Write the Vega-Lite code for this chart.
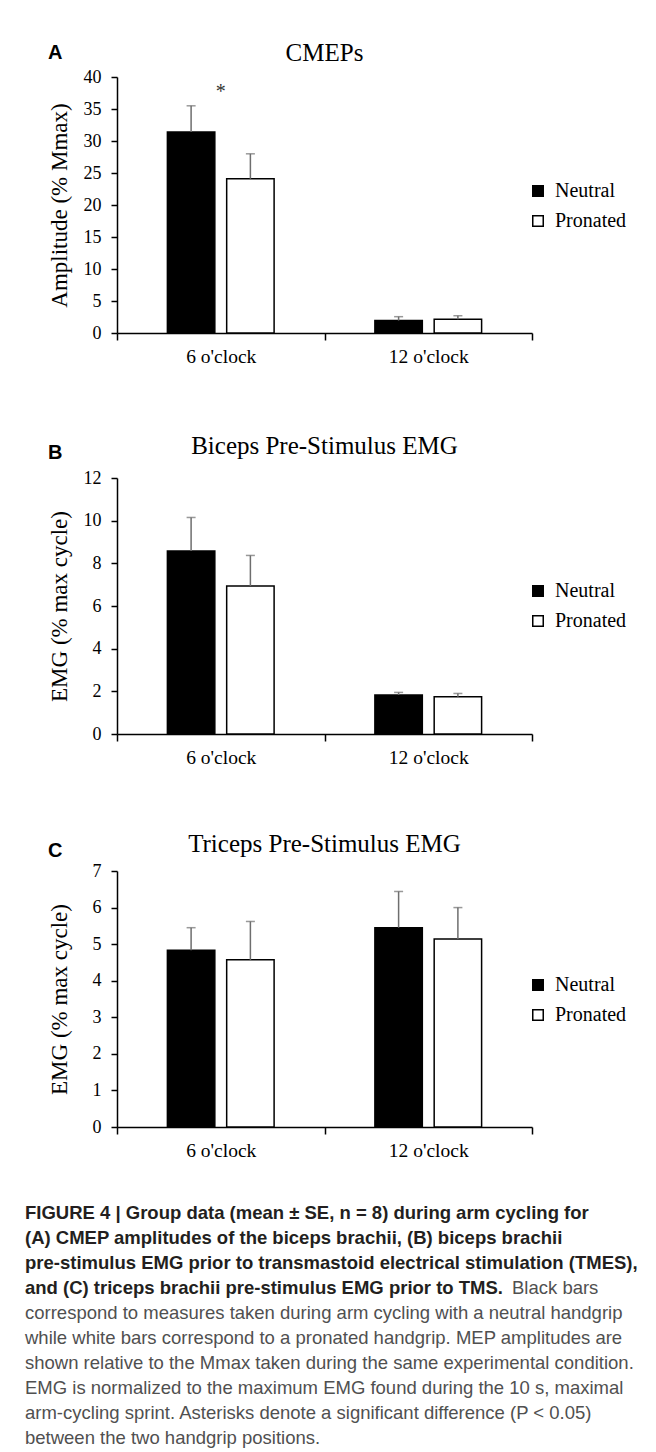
{
  "$schema": "https://vega.github.io/schema/vega-lite/v6.json",
  "padding": {"left": 25, "top": 40, "right": 5, "bottom": 0},
  "background": "white",
  "datasets": {
    "cmep": [
      {"clock": "6 o'clock", "grip": "Neutral", "mean": 31.4, "upper": 35.5},
      {"clock": "6 o'clock", "grip": "Pronated", "mean": 24.1, "upper": 28.0},
      {"clock": "12 o'clock", "grip": "Neutral", "mean": 1.95, "upper": 2.55},
      {"clock": "12 o'clock", "grip": "Pronated", "mean": 2.15, "upper": 2.7}
    ],
    "biceps": [
      {"clock": "6 o'clock", "grip": "Neutral", "mean": 8.58, "upper": 10.15},
      {"clock": "6 o'clock", "grip": "Pronated", "mean": 6.94, "upper": 8.37},
      {"clock": "12 o'clock", "grip": "Neutral", "mean": 1.83, "upper": 1.95},
      {"clock": "12 o'clock", "grip": "Pronated", "mean": 1.75, "upper": 1.9}
    ],
    "triceps": [
      {"clock": "6 o'clock", "grip": "Neutral", "mean": 4.83, "upper": 5.45},
      {"clock": "6 o'clock", "grip": "Pronated", "mean": 4.57, "upper": 5.62},
      {"clock": "12 o'clock", "grip": "Neutral", "mean": 5.45, "upper": 6.44},
      {"clock": "12 o'clock", "grip": "Pronated", "mean": 5.14, "upper": 6.0}
    ],
    "sig": [
      {"clock": "6 o'clock", "y": 37.6, "label": "*"}
    ],
    "caption": [
      {"line": 1, "part": "head", "text": "FIGURE 4 | Group data (mean ± SE, n = 8) during arm cycling for"},
      {"line": 2, "part": "head", "text": "(A) CMEP amplitudes of the biceps brachii, (B) biceps brachii"},
      {"line": 3, "part": "head", "text": "pre-stimulus EMG prior to transmastoid electrical stimulation (TMES),"},
      {"line": 4, "part": "head", "text": "and (C) triceps brachii pre-stimulus EMG prior to TMS."},
      {"line": 4, "part": "tail", "text": "Black bars"},
      {"line": 5, "part": "body", "text": "correspond to measures taken during arm cycling with a neutral handgrip"},
      {"line": 6, "part": "body", "text": "while white bars correspond to a pronated handgrip. MEP amplitudes are"},
      {"line": 7, "part": "body", "text": "shown relative to the Mmax taken during the same experimental condition."},
      {"line": 8, "part": "body", "text": "EMG is normalized to the maximum EMG found during the 10 s, maximal"},
      {"line": 9, "part": "body", "text": "arm-cycling sprint. Asterisks denote a significant difference (P < 0.05)"},
      {"line": 10, "part": "body", "text": "between the two handgrip positions."}
    ]
  },
  "spacing": 40,
  "resolve": {"scale": {"color": "independent"}, "legend": {"color": "independent"}},
  "vconcat": [
    {
      "spacing": 68,
      "resolve": {"scale": {"color": "independent", "y": "independent"}, "legend": {"color": "independent"}},
      "vconcat": [
        {
          "title": {"text": "A", "anchor": "start", "frame": "bounds", "font": "Liberation Sans", "fontSize": 20, "fontWeight": "bold", "color": "black", "baseline": "alphabetic", "offset": -38},
          "vconcat": [
            {
              "width": 415,
              "height": 256,
              "title": {"text": "CMEPs", "font": "Liberation Serif", "fontSize": 25, "fontWeight": "normal", "color": "black", "baseline": "alphabetic", "offset": -17.5},
              "encoding": {
                "x": {"field": "clock", "type": "nominal", "sort": ["6 o'clock", "12 o'clock"], "title": null, "scale": {"paddingInner": 0, "paddingOuter": 0}}
              },
              "layer": [
                {
                  "data": {"name": "cmep"},
                  "mark": {"type": "bar", "stroke": "black", "strokeWidth": 1.5},
                  "encoding": {
                    "xOffset": {"field": "grip", "type": "nominal", "sort": ["Neutral", "Pronated"], "scale": {"paddingInner": 0.2, "paddingOuter": 0.85}},
                    "y": {"field": "mean", "type": "quantitative", "title": "Amplitude (% Mmax)", "scale": {"domain": [0, 40], "nice": false}, "axis": {"values": [0, 5, 10, 15, 20, 25, 30, 35, 40]}},
                    "color": {"field": "grip", "type": "nominal", "scale": {"domain": ["Neutral", "Pronated"], "range": ["black", "white"]},
                      "legend": {"title": null, "orient": "none", "legendX": 411, "legendY": 104, "padding": 0, "symbolType": "square", "symbolSize": 110, "symbolStrokeColor": "black", "symbolStrokeWidth": 1.5, "labelFont": "Liberation Serif", "labelFontSize": 20, "labelColor": "black", "labelOffset": 7, "rowPadding": 10}}
                  }
                },
                {
                  "data": {"name": "cmep"},
                  "mark": {"type": "rule", "color": "#6e6e6e", "strokeWidth": 1.5},
                  "encoding": {
                    "xOffset": {"field": "grip", "type": "nominal", "sort": ["Neutral", "Pronated"], "scale": {"paddingInner": 0.2, "paddingOuter": 0.85}},
                    "y": {"field": "mean", "type": "quantitative", "title": "Amplitude (% Mmax)", "scale": {"domain": [0, 40], "nice": false}, "axis": {"values": [0, 5, 10, 15, 20, 25, 30, 35, 40]}},
                    "y2": {"field": "upper"}
                  }
                },
                {
                  "data": {"name": "cmep"},
                  "mark": {"type": "tick", "color": "#6e6e6e", "thickness": 1.5, "size": 9, "orient": "horizontal"},
                  "encoding": {
                    "xOffset": {"field": "grip", "type": "nominal", "sort": ["Neutral", "Pronated"], "scale": {"paddingInner": 0.2, "paddingOuter": 0.85}},
                    "y": {"field": "upper", "type": "quantitative", "title": "Amplitude (% Mmax)", "scale": {"domain": [0, 40], "nice": false}, "axis": {"values": [0, 5, 10, 15, 20, 25, 30, 35, 40]}}
                  }
                },
                {
                  "data": {"name": "sig"},
                  "mark": {"type": "text", "font": "Liberation Serif", "fontSize": 20, "color": "#333", "baseline": "middle"},
                  "encoding": {
                    "y": {"field": "y", "type": "quantitative", "title": "Amplitude (% Mmax)", "scale": {"domain": [0, 40], "nice": false}, "axis": {"values": [0, 5, 10, 15, 20, 25, 30, 35, 40]}},
                    "text": {"field": "label"}
                  }
                }
              ]
            }
          ]
        },
        {
          "spacing": 64,
          "resolve": {"scale": {"color": "independent", "y": "independent"}, "legend": {"color": "independent"}},
          "vconcat": [
            {
              "title": {"text": "B", "anchor": "start", "frame": "bounds", "font": "Liberation Sans", "fontSize": 20, "fontWeight": "bold", "color": "black", "baseline": "alphabetic", "offset": -44.5},
              "vconcat": [
                {
                  "width": 415,
                  "height": 256,
                  "title": {"text": "Biceps Pre-Stimulus EMG", "font": "Liberation Serif", "fontSize": 25, "fontWeight": "normal", "color": "black", "baseline": "alphabetic", "offset": -10},
                  "data": {"name": "biceps"},
                  "encoding": {
                    "x": {"field": "clock", "type": "nominal", "sort": ["6 o'clock", "12 o'clock"], "title": null, "scale": {"paddingInner": 0, "paddingOuter": 0}},
                    "xOffset": {"field": "grip", "type": "nominal", "sort": ["Neutral", "Pronated"], "scale": {"paddingInner": 0.2, "paddingOuter": 0.85}}
                  },
                  "layer": [
                    {
                      "mark": {"type": "bar", "stroke": "black", "strokeWidth": 1.5},
                      "encoding": {
                        "y": {"field": "mean", "type": "quantitative", "title": "EMG (% max cycle)", "scale": {"domain": [0, 12], "nice": false}, "axis": {"values": [0, 2, 4, 6, 8, 10, 12]}},
                        "color": {"field": "grip", "type": "nominal", "scale": {"domain": ["Neutral", "Pronated"], "range": ["black", "white"]},
                          "legend": {"title": null, "orient": "none", "legendX": 411, "legendY": 103, "padding": 0, "symbolType": "square", "symbolSize": 110, "symbolStrokeColor": "black", "symbolStrokeWidth": 1.5, "labelFont": "Liberation Serif", "labelFontSize": 20, "labelColor": "black", "labelOffset": 7, "rowPadding": 10}}
                      }
                    },
                    {
                      "mark": {"type": "rule", "color": "#6e6e6e", "strokeWidth": 1.5},
                      "encoding": {
                        "y": {"field": "mean", "type": "quantitative", "title": "EMG (% max cycle)", "scale": {"domain": [0, 12], "nice": false}, "axis": {"values": [0, 2, 4, 6, 8, 10, 12]}},
                        "y2": {"field": "upper"}
                      }
                    },
                    {
                      "mark": {"type": "tick", "color": "#6e6e6e", "thickness": 1.5, "size": 9, "orient": "horizontal"},
                      "encoding": {
                        "y": {"field": "upper", "type": "quantitative", "title": "EMG (% max cycle)", "scale": {"domain": [0, 12], "nice": false}, "axis": {"values": [0, 2, 4, 6, 8, 10, 12]}}
                      }
                    }
                  ]
                }
              ]
            },
            {
              "title": {"text": "C", "anchor": "start", "frame": "bounds", "font": "Liberation Sans", "fontSize": 20, "fontWeight": "bold", "color": "black", "baseline": "alphabetic", "offset": -45.5},
              "vconcat": [
                {
                  "width": 415,
                  "height": 256,
                  "title": {"text": "Triceps Pre-Stimulus EMG", "font": "Liberation Serif", "fontSize": 25, "fontWeight": "normal", "color": "black", "baseline": "alphabetic", "offset": -14.5},
                  "data": {"name": "triceps"},
                  "encoding": {
                    "x": {"field": "clock", "type": "nominal", "sort": ["6 o'clock", "12 o'clock"], "title": null, "scale": {"paddingInner": 0, "paddingOuter": 0}},
                    "xOffset": {"field": "grip", "type": "nominal", "sort": ["Neutral", "Pronated"], "scale": {"paddingInner": 0.2, "paddingOuter": 0.85}}
                  },
                  "layer": [
                    {
                      "mark": {"type": "bar", "stroke": "black", "strokeWidth": 1.5},
                      "encoding": {
                        "y": {"field": "mean", "type": "quantitative", "title": "EMG (% max cycle)", "scale": {"domain": [0, 7], "nice": false}, "axis": {"values": [0, 1, 2, 3, 4, 5, 6, 7]}},
                        "color": {"field": "grip", "type": "nominal", "scale": {"domain": ["Neutral", "Pronated"], "range": ["black", "white"]},
                          "legend": {"title": null, "orient": "none", "legendX": 411, "legendY": 104, "padding": 0, "symbolType": "square", "symbolSize": 110, "symbolStrokeColor": "black", "symbolStrokeWidth": 1.5, "labelFont": "Liberation Serif", "labelFontSize": 20, "labelColor": "black", "labelOffset": 7, "rowPadding": 10}}
                      }
                    },
                    {
                      "mark": {"type": "rule", "color": "#6e6e6e", "strokeWidth": 1.5},
                      "encoding": {
                        "y": {"field": "mean", "type": "quantitative", "title": "EMG (% max cycle)", "scale": {"domain": [0, 7], "nice": false}, "axis": {"values": [0, 1, 2, 3, 4, 5, 6, 7]}},
                        "y2": {"field": "upper"}
                      }
                    },
                    {
                      "mark": {"type": "tick", "color": "#6e6e6e", "thickness": 1.5, "size": 9, "orient": "horizontal"},
                      "encoding": {
                        "y": {"field": "upper", "type": "quantitative", "title": "EMG (% max cycle)", "scale": {"domain": [0, 7], "nice": false}, "axis": {"values": [0, 1, 2, 3, 4, 5, 6, 7]}}
                      }
                    }
                  ]
                }
              ]
            }
          ]
        }
      ]
    },
    {
      "width": 415,
      "height": 250,
      "data": {"name": "caption"},
      "encoding": {
        "y": {"field": "line", "type": "ordinal", "axis": null, "scale": {"type": "point", "padding": 0.5}},
        "text": {"field": "text"}
      },
      "layer": [
        {
          "transform": [{"filter": "datum.part === 'head'"}],
          "mark": {"type": "text", "align": "left", "baseline": "middle", "font": "Liberation Sans", "fontSize": 18.5, "fontWeight": "bold", "color": "#231f20"},
          "encoding": {"x": {"value": -92}}
        },
        {
          "transform": [{"filter": "datum.part === 'body'"}],
          "mark": {"type": "text", "align": "left", "baseline": "middle", "font": "Liberation Sans", "fontSize": 18.5, "fontWeight": "normal", "color": "#505050"},
          "encoding": {"x": {"value": -92}}
        },
        {
          "transform": [{"filter": "datum.part === 'tail'"}],
          "mark": {"type": "text", "align": "left", "baseline": "middle", "font": "Liberation Sans", "fontSize": 18.5, "fontWeight": "normal", "color": "#505050"},
          "encoding": {"x": {"value": 395}}
        }
      ]
    }
  ],
  "config": {
    "view": {"stroke": null},
    "font": "Liberation Serif",
    "axis": {"domainColor": "black", "tickColor": "black", "domainWidth": 1.5, "tickWidth": 1.5, "labelColor": "black", "titleColor": "black", "labelFont": "Liberation Serif", "titleFont": "Liberation Serif", "grid": false, "titleFontWeight": "normal"},
    "axisX": {"labelAngle": 0, "tickBand": "extent", "tickSize": 7, "labelPadding": 7, "labelFontSize": 19.5},
    "axisY": {"tickSize": 6, "labelPadding": 10, "labelFontSize": 18, "titleFontSize": 23, "titlePadding": 12, "minExtent": 34}
  }
}
